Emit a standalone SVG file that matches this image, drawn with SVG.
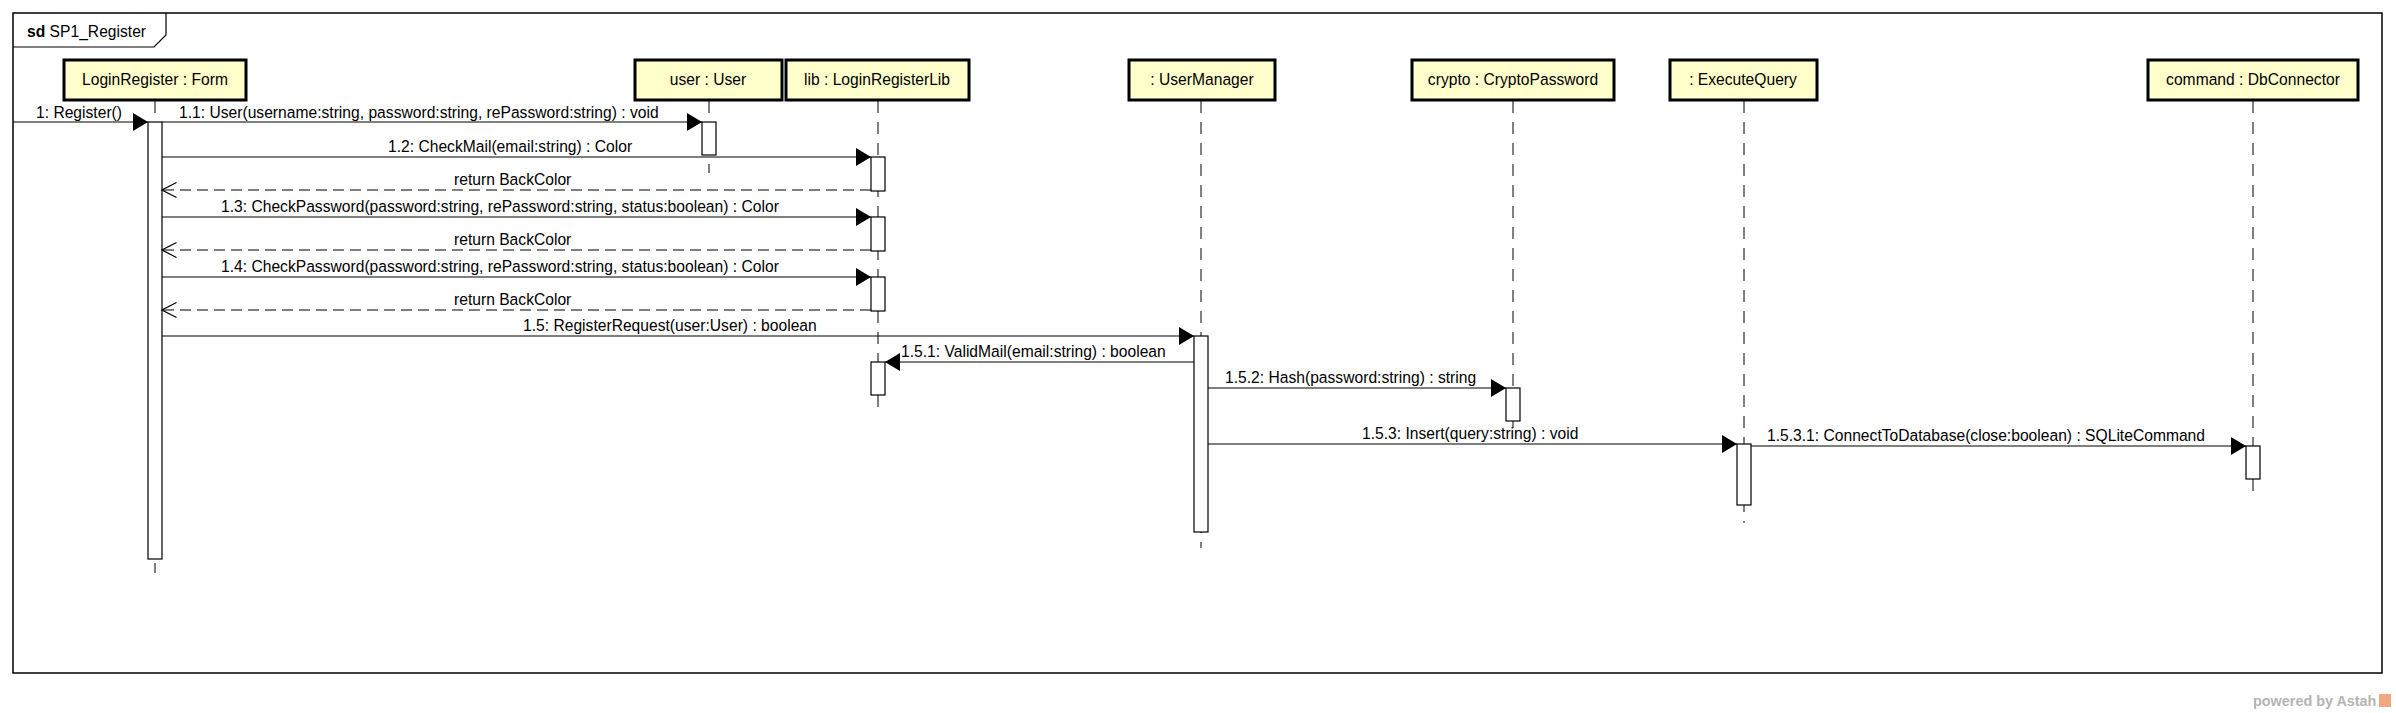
<svg xmlns="http://www.w3.org/2000/svg" width="2396" height="713" viewBox="0 0 2396 713">
<style>
text{font-family:"Liberation Sans",Arial,sans-serif;font-size:17px;fill:#000}
.node rect.box{fill:#ffffcc;stroke:#000;stroke-width:3}
.life{stroke:#000;stroke-width:1;stroke-dasharray:12 9;fill:none}
.act{fill:#fff;stroke:#000;stroke-width:1.2}
.msg{stroke:#000;stroke-width:1.2;fill:none;marker-end:url(#fill)}
.ret{stroke:#000;stroke-width:1.2;fill:none;stroke-dasharray:11 6;marker-end:url(#open)}
.lbl{text-anchor:middle}
</style>
<defs>
<marker id="fill" markerUnits="userSpaceOnUse" markerWidth="16" markerHeight="18" refX="15" refY="9" orient="auto">
<path d="M0,0 L15,9 L0,18 z" fill="#000"/>
</marker>
<marker id="open" markerUnits="userSpaceOnUse" markerWidth="16" markerHeight="17" refX="14.5" refY="8" orient="auto">
<path d="M0,0.5 L14.5,8 L0,15.5" fill="none" stroke="#000" stroke-width="1.2"/>
</marker>
</defs>
<rect x="0" y="0" width="2396" height="713" fill="#fff"/>
<g id="frame">
<rect x="13" y="13" width="2369" height="660" fill="none" stroke="#000" stroke-width="1.5"/>
<path d="M13,47 L154,47 L166,35 L166,13" fill="none" stroke="#000" stroke-width="1.2"/>
<text transform="translate(27 37) scale(0.92 1)"><tspan font-weight="bold">sd</tspan> SP1_Register</text>
</g>
<g id="lifelines">
<line class="life" x1="155" y1="101" x2="155" y2="573"/>
<line class="life" x1="709" y1="101" x2="709" y2="173"/>
<line class="life" x1="878" y1="101" x2="878" y2="413"/>
<line class="life" x1="1201" y1="101" x2="1201" y2="548"/>
<line class="life" x1="1513" y1="101" x2="1513" y2="433"/>
<line class="life" x1="1744" y1="101" x2="1744" y2="523"/>
<line class="life" x1="2253" y1="101" x2="2253" y2="498"/>
</g>
<g id="n-loginregister" class="node">
<rect class="box" x="64" y="60" width="182" height="40"/>
<text class="lbl" transform="translate(155 85) scale(0.92 1)">LoginRegister : Form</text>
<rect class="act" x="148" y="122" width="14" height="437"/>
</g>
<g id="n-user" class="node">
<rect class="box" x="635" y="60" width="147" height="40"/>
<text class="lbl" transform="translate(708 85) scale(0.92 1)">user : User</text>
<rect class="act" x="702" y="122" width="14" height="33"/>
</g>
<g id="n-lib" class="node">
<rect class="box" x="786" y="60" width="183" height="40"/>
<text class="lbl" transform="translate(877 85) scale(0.92 1)">lib : LoginRegisterLib</text>
<rect class="act" x="871" y="157" width="14" height="34"/>
<rect class="act" x="871" y="217" width="14" height="34"/>
<rect class="act" x="871" y="277" width="14" height="34"/>
<rect class="act" x="871" y="362" width="14" height="33"/>
</g>
<g id="n-usermanager" class="node">
<rect class="box" x="1129" y="60" width="146" height="40"/>
<text class="lbl" transform="translate(1202 85) scale(0.92 1)">: UserManager</text>
<rect class="act" x="1194" y="336" width="14" height="196"/>
</g>
<g id="n-crypto" class="node">
<rect class="box" x="1412" y="60" width="202" height="40"/>
<text class="lbl" transform="translate(1513 85) scale(0.92 1)">crypto : CryptoPassword</text>
<rect class="act" x="1506" y="388" width="14" height="33"/>
</g>
<g id="n-executequery" class="node">
<rect class="box" x="1670" y="60" width="147" height="40"/>
<text class="lbl" transform="translate(1743 85) scale(0.92 1)">: ExecuteQuery</text>
<rect class="act" x="1737" y="444" width="14" height="61"/>
</g>
<g id="n-dbconnector" class="node">
<rect class="box" x="2148" y="60" width="210" height="40"/>
<text class="lbl" transform="translate(2253 85) scale(0.92 1)">command : DbConnector</text>
<rect class="act" x="2246" y="446" width="14" height="33"/>
</g>
<g id="connectors">
<line class="msg" x1="13" y1="122" x2="148" y2="122"/>
<text transform="translate(36 118) scale(0.92 1)">1: Register()</text>
<line class="msg" x1="162" y1="122" x2="702" y2="122"/>
<text transform="translate(179 118) scale(0.92 1)">1.1: User(username:string, password:string, rePassword:string) : void</text>
<line class="msg" x1="162" y1="157" x2="871" y2="157"/>
<text transform="translate(388 152) scale(0.92 1)">1.2: CheckMail(email:string) : Color</text>
<line class="ret" x1="871" y1="190" x2="162" y2="190"/>
<text transform="translate(454 185) scale(0.92 1)">return BackColor</text>
<line class="msg" x1="162" y1="217" x2="871" y2="217"/>
<text transform="translate(221 212) scale(0.92 1)">1.3: CheckPassword(password:string, rePassword:string, status:boolean) : Color</text>
<line class="ret" x1="871" y1="250" x2="162" y2="250"/>
<text transform="translate(454 245) scale(0.92 1)">return BackColor</text>
<line class="msg" x1="162" y1="277" x2="871" y2="277"/>
<text transform="translate(221 272) scale(0.92 1)">1.4: CheckPassword(password:string, rePassword:string, status:boolean) : Color</text>
<line class="ret" x1="871" y1="310" x2="162" y2="310"/>
<text transform="translate(454 305) scale(0.92 1)">return BackColor</text>
<line class="msg" x1="162" y1="336" x2="1194" y2="336"/>
<text transform="translate(523 331) scale(0.92 1)">1.5: RegisterRequest(user:User) : boolean</text>
<line class="msg" x1="1194" y1="362" x2="885" y2="362"/>
<text transform="translate(901 357) scale(0.92 1)">1.5.1: ValidMail(email:string) : boolean</text>
<line class="msg" x1="1208" y1="388" x2="1506" y2="388"/>
<text transform="translate(1225 383) scale(0.92 1)">1.5.2: Hash(password:string) : string</text>
<line class="msg" x1="1208" y1="444" x2="1737" y2="444"/>
<text transform="translate(1362 439) scale(0.92 1)">1.5.3: Insert(query:string) : void</text>
<line class="msg" x1="1751" y1="446" x2="2246" y2="446"/>
<text transform="translate(1767 441) scale(0.92 1)">1.5.3.1: ConnectToDatabase(close:boolean) : SQLiteCommand</text>
</g>
<g id="watermark">
<text x="2253" y="706" style="font-size:14.4px;font-weight:bold;fill:#b4b4b4">powered by Astah</text>
<rect x="2379" y="694" width="12" height="13" fill="#f2a77e"/>
</g>
</svg>
